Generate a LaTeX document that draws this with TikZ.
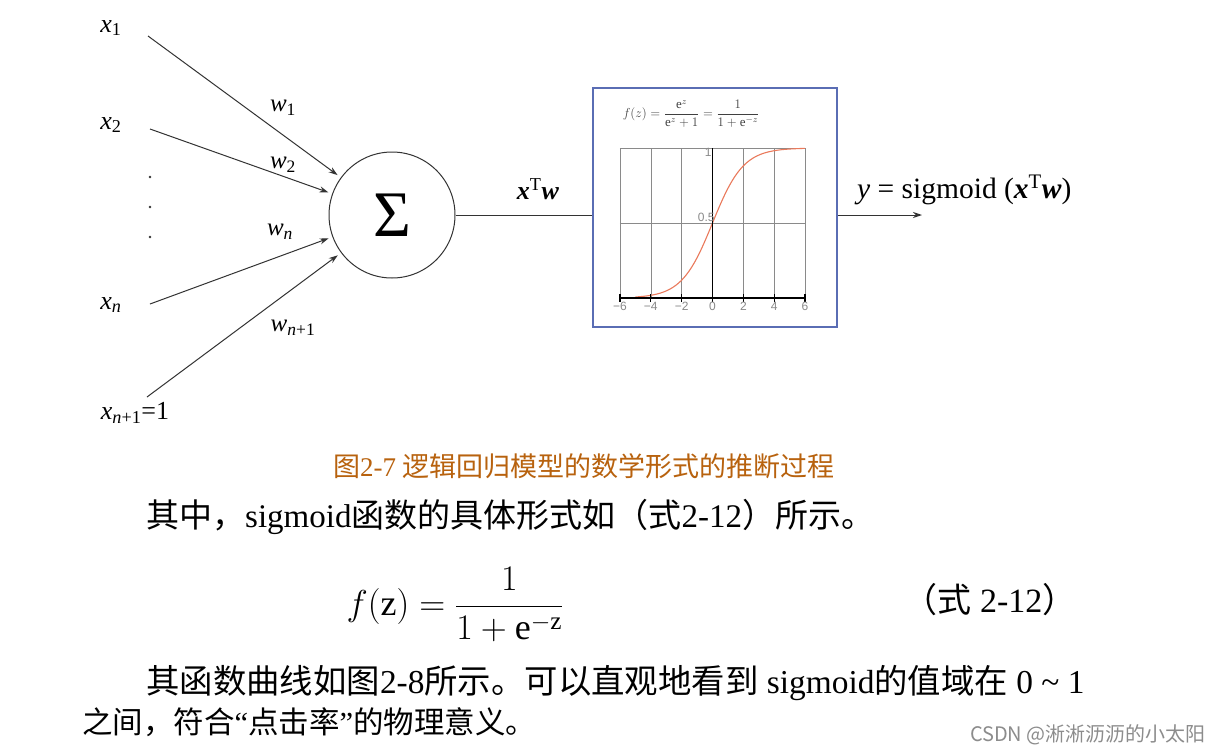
\RequirePackage{fix-cm}
\documentclass[tikz,border=0pt]{standalone}
\usepackage{fontspec}
\setmainfont{Liberation Serif}
\newfontfamily\cjk{Noto Sans CJK SC}
\newfontfamily\sansf{Liberation Sans}
\usetikzlibrary{arrows.meta}
\definecolor{boxblue}{HTML}{5A6DB4}
\definecolor{capbrown}{HTML}{B8620E}
\definecolor{curvered}{HTML}{EA7A5C}
\definecolor{linegray}{HTML}{333333}
\definecolor{gridgray}{HTML}{8A8A8A}
\newcommand\fs[1]{\fontsize{#1}{#1}\selectfont}
\begin{document}
\begin{tikzpicture}[x=1pt,y=-1pt,
  lbl/.style={inner sep=0pt, font=\fs{26}},
  wlbl/.style={inner sep=0pt, font=\fs{25}},
  conn/.style={draw=linegray, line width=1pt},
  arr/.style={conn, -{Stealth[length=9pt,width=6pt]}},
  body/.style={inner sep=0pt, anchor=west, font=\fs{33}},
  gridl/.style={draw=gridgray, line width=0.5pt},
  axisl/.style={draw=black, line width=1.4pt},
  ticklbl/.style={inner sep=0pt, text=gridgray, font=\sansf\fs{12}}]
\useasboundingbox[fill=white] (0,0) rectangle (1219,753);

% inputs
\node[lbl] (x1) at (111,28) {\textit{x}\textsubscript{1}};
\node[lbl] (x2) at (111,125) {\textit{x}\textsubscript{2}};
\node[lbl] (xn) at (111,305) {\textit{x}\textsubscript{\textit{n}}};
\node[lbl] (xn1) at (135,413) {\textit{x}\textsubscript{\textit{n}+1}=1};
\fill[linegray] (150,177) circle (1.3) (150,207) circle (1.3) (150,237) circle (1.3);

\coordinate (s1) at (148,36);
\coordinate (s2) at (150,129);
\coordinate (sn) at (150,304);
\coordinate (sn1) at (147,397);

\node[draw=linegray, line width=1pt, circle, minimum size=126pt, inner sep=0pt, font=\fs{65}] (sum) at (392,215) {Σ};

\draw[arr, shorten >=4pt] (s1) -- (sum);
\draw[arr, shorten >=4pt] (s2) -- (sum);
\draw[arr, shorten >=4pt] (sn) -- (sum);
\draw[arr, shorten >=4pt] (sn1) -- (sum);

\node[wlbl] (w1) at (283,108) {\textit{w}\textsubscript{1}};
\node[wlbl] (w2) at (283,165) {\textit{w}\textsubscript{2}};
\node[wlbl] (wn) at (280,232) {\textit{w}\textsubscript{\textit{n}}};
\node[wlbl] (wn1) at (293,328) {\textit{w}\textsubscript{\textit{n}+1}};

% sigmoid box
\node[draw=boxblue, line width=2pt, minimum width=244pt, minimum height=239pt, inner sep=0pt] (box) at (715,207.5) {};
\draw[conn] (sum.east) -- (sum.east -| box.west);
\node[lbl, font=\fs{26}] (xtw) at (538,189) {\textbf{\textit{x}}\textsuperscript{T}\textbf{\textit{w}}};

\coordinate (out) at (922,215);
\draw[arr] (box.east |- sum.east) -- (out);
\node[inner sep=0pt, anchor=west, font=\fs{29.5}] (yout) at (857,190) {\textit{y} = sigmoid (\textbf{\textit{x}}\textsuperscript{T}\textbf{\textit{w}})};

% small formula
\node[inner sep=0pt, text=black!75, font=\fs{13}] (bf) at (691,114) {$f(z)=\displaystyle\frac{\mathrm{e}^z}{\mathrm{e}^z+1}=\frac{1}{1+\mathrm{e}^{-z}}$};

% plot
\begin{scope}[shift={(712.5,298)}, x=15.42pt, y=150pt]
  \foreach \t in {-6,-4,...,6} \draw[gridl] (\t,0) -- (\t,1);
  \foreach \v in {0.5,1} \draw[gridl] (-6,\v) -- (6,\v);
  \draw[curvered, line width=1.1pt, domain=-5:6, samples=120, smooth] plot (\x,{1/(1+exp(-\x))});
  \draw[axisl] (-6,0) -- (6,0);
  \draw[axisl] (0,0) -- (0,1);
  \foreach \t/\s in {-6/−6,-4/−4,-2/−2,0/0,2/2,4/4,6/6} {
    \draw[black, line width=1.2pt] (\t,-0.025) -- (\t,0.03);
    \node[ticklbl] at (\t,-0.055) {\s};
  }
  \node[ticklbl, anchor=east] at (-0.05,0.97) {1};
  \node[ticklbl, anchor=east] at (0.15,0.54) {0.5};
\end{scope}

% caption and body text
\node[inner sep=0pt, text=capbrown, font=\fs{27}] (cap) at (584,466) {{\cjk 图}2-7 {\cjk 逻辑回归模型的数学形式的推断过程}};
\node[body] (l1) at (146,517) {{\cjk 其中，}sigmoid{\cjk 函数的具体形式如（式}2-12{\cjk ）所示。}};
\node[inner sep=0pt, font=\fs{36}] (eq) at (455,605) {$f(\mathrm{z})=\displaystyle\frac{1}{1+\mathrm{e}^{-\mathrm{z}}}$};
\node[inner sep=0pt, font=\fs{34}] (eqn) at (990,600) {{\cjk （式} 2-12{\cjk ）}};
\node[body, font=\fs{33.4}] (l3) at (146,683) {{\cjk 其函数曲线如图}2-8{\cjk 所示。可以直观地看到} sigmoid{\cjk 的值域在} 0 \textasciitilde{} 1};
\node[body, font=\fs{30.5}] (l4) at (82,722) {{\cjk 之间，符合}“{\cjk 点击率}”{\cjk 的物理意义。}};
\node[inner sep=0pt, anchor=east, text=black!45, font=\cjk\fs{20}] (wm) at (1206,735) {CSDN @淅淅沥沥的小太阳};
\end{tikzpicture}
\end{document}
